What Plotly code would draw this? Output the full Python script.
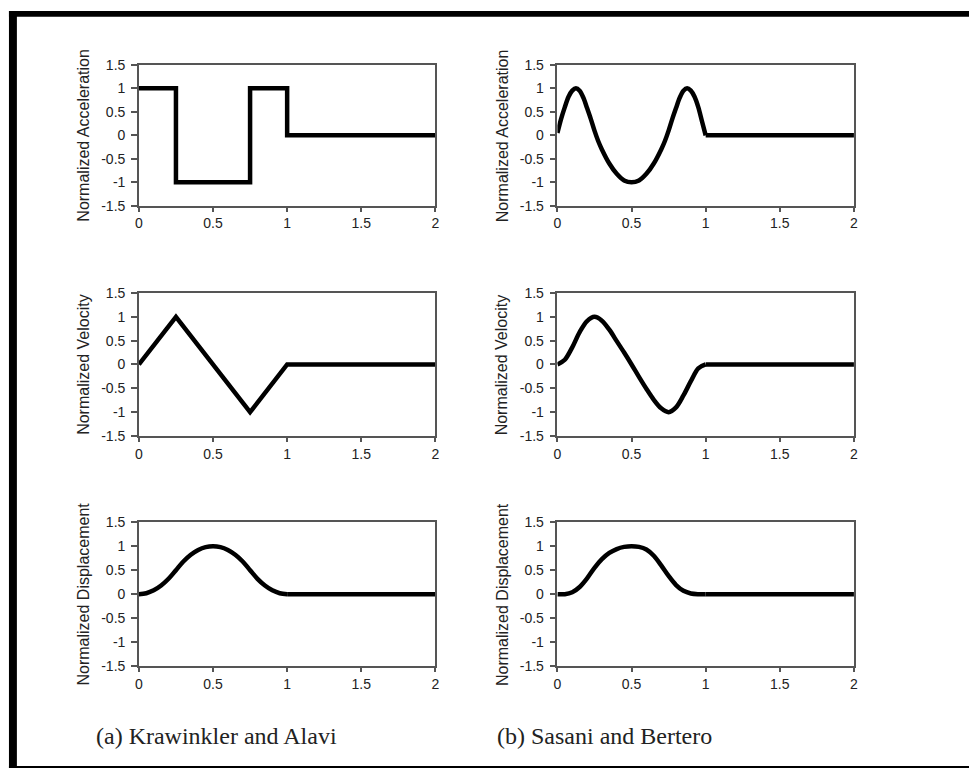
import plotly.graph_objects as go

W, H = 973, 776

# ---------------- data ----------------
# (a) Krawinkler and Alavi
ka_acc_t = [0, 0.25, 0.25, 0.75, 0.75, 1.0, 1.0, 2.0]
ka_acc_v = [1, 1, -1, -1, 1, 1, 0, 0]

ka_vel_t = [0, 0.25, 0.75, 1.0, 2.0]
ka_vel_v = [0, 1, -1, 0, 0]

ka_dis_t = [0, 0.05, 0.1, 0.15, 0.2, 0.25, 0.3, 0.35, 0.4, 0.45, 0.5,
            0.55, 0.6, 0.65, 0.7, 0.75, 0.8, 0.85, 0.9, 0.95, 1.0, 2.0]
ka_dis_v = [0, 0.02, 0.08, 0.18, 0.32, 0.5, 0.68, 0.82, 0.92, 0.98, 1.0,
            0.98, 0.92, 0.82, 0.68, 0.5, 0.32, 0.18, 0.08, 0.02, 0, 0]

# (b) Sasani and Bertero
sb_acc_t = [0, 0.025, 0.05, 0.075, 0.1, 0.125, 0.15, 0.175, 0.2, 0.225, 0.25,
            0.275, 0.3, 0.35, 0.4, 0.45, 0.5, 0.55, 0.6, 0.65, 0.7, 0.725,
            0.75, 0.775, 0.8, 0.825, 0.85, 0.875, 0.9, 0.925, 0.95, 0.975,
            1.0, 2.0]
sb_acc_v = [0.05, 0.35, 0.6, 0.82, 0.95, 1.0, 0.95, 0.8, 0.58, 0.35, 0.1,
            -0.12, -0.3, -0.6, -0.82, -0.96, -1.0, -0.96, -0.82, -0.6, -0.3, -0.12,
            0.1, 0.35, 0.58, 0.8, 0.95, 1.0, 0.95, 0.82, 0.6, 0.3,
            0.0, 0.0]

sb_vel_t = [0, 0.05, 0.1, 0.15, 0.2, 0.25, 0.3, 0.35, 0.4, 0.45, 0.5,
            0.55, 0.6, 0.65, 0.7, 0.75, 0.8, 0.85, 0.9, 0.95, 1.0, 2.0]
sb_vel_v = [0, 0.1, 0.36, 0.68, 0.91, 1.0, 0.92, 0.73, 0.49, 0.25, 0.0,
            -0.26, -0.51, -0.74, -0.92, -1.0, -0.9, -0.65, -0.35, -0.08, 0, 0]

sb_dis_t = [0, 0.05, 0.1, 0.15, 0.2, 0.25, 0.3, 0.35, 0.4, 0.45, 0.5,
            0.55, 0.6, 0.65, 0.7, 0.75, 0.8, 0.85, 0.9, 0.95, 1.0, 2.0]
sb_dis_v = [0, 0.0, 0.04, 0.15, 0.33, 0.55, 0.73, 0.86, 0.94, 0.985, 1.0,
            0.985, 0.93, 0.8, 0.6, 0.38, 0.19, 0.07, 0.015, 0, 0, 0]

x_ticks = [0, 0.5, 1, 1.5, 2]
x_tick_labels = ["0", "0.5", "1", "1.5", "2"]
y_ticks = [-1.5, -1, -0.5, 0, 0.5, 1, 1.5]
y_tick_labels = ["-1.5", "-1", "-0.5", "0", "0.5", "1", "1.5"]

row_titles = ["Normalized Acceleration", "Normalized Velocity", "Normalized Displacement"]
captions = ["(a) Krawinkler and Alavi", "(b) Sasani and Bertero"]

panels = [
    (0, 0, ka_acc_t, ka_acc_v, "linear"),
    (1, 0, ka_vel_t, ka_vel_v, "linear"),
    (2, 0, ka_dis_t, ka_dis_v, "spline"),
    (0, 1, sb_acc_t, sb_acc_v, "spline"),
    (1, 1, sb_vel_t, sb_vel_v, "spline"),
    (2, 1, sb_dis_t, sb_dis_v, "spline"),
]

# ---------------- layout geometry (pixels) ----------------
col_px = [(136, 435), (558, 857)]
row_px = [(58, 202), (291, 437), (525, 672)]
title_x_px = [80, 502]
caption_px = [(91, 743), (495, 743)]


def fx(px):
    return px / W


def fy(py):
    return 1 - py / H


fig = go.Figure()
layout = dict(
    width=W, height=H,
    margin=dict(l=0, r=0, t=0, b=0),
    paper_bgcolor="white", plot_bgcolor="white",
    showlegend=False,
)

tick_font = dict(family="Liberation Sans, Arial, sans-serif", size=14, color="#222222")
axis_col = "#555555"
line_style = dict(color="black", width=4.5)

annotations = []
for i, (r, c, t, v, shape) in enumerate(panels):
    n = i + 1
    xa = "x" if n == 1 else f"x{n}"
    ya = "y" if n == 1 else f"y{n}"
    if shape == "spline":
        # smooth pulse, then the flat tail drawn straight
        k = t.index(1.0)
        fig.add_trace(go.Scatter(
            x=t[:k + 1], y=v[:k + 1], mode="lines", xaxis=xa, yaxis=ya,
            line=dict(**line_style, shape="spline", smoothing=0.9),
            hoverinfo="skip",
        ))
        fig.add_trace(go.Scatter(
            x=t[k:], y=v[k:], mode="lines", xaxis=xa, yaxis=ya,
            line=dict(**line_style), hoverinfo="skip",
        ))
    else:
        fig.add_trace(go.Scatter(
            x=t, y=v, mode="lines", xaxis=xa, yaxis=ya,
            line=dict(**line_style), hoverinfo="skip",
        ))
    x0, x1 = col_px[c]
    y0, y1 = row_px[r]
    key_x = "xaxis" if n == 1 else f"xaxis{n}"
    key_y = "yaxis" if n == 1 else f"yaxis{n}"
    layout[key_x] = dict(
        domain=[fx(x0), fx(x1)], range=[0, 2], anchor=ya,
        tickvals=x_ticks, ticktext=x_tick_labels, ticks="outside", ticklen=4,
        tickwidth=1.5, tickcolor=axis_col, showline=True, linecolor=axis_col,
        linewidth=1.5, mirror=True, showgrid=False, zeroline=False,
        tickfont=tick_font, fixedrange=True,
    )
    layout[key_y] = dict(
        domain=[fy(y1), fy(y0)], range=[-1.5, 1.5], anchor=xa,
        tickvals=y_ticks, ticktext=y_tick_labels, ticks="outside", ticklen=6,
        tickwidth=1.5, tickcolor=axis_col, showline=True, linecolor=axis_col,
        linewidth=1.5, mirror=True, showgrid=False, zeroline=False,
        tickfont=tick_font, fixedrange=True, ticklabelstandoff=3,
    )
    annotations.append(dict(
        text=row_titles[r], x=fx(title_x_px[c]), y=fy((y0 + y1) / 2),
        xref="paper", yref="paper", showarrow=False, textangle=-90,
        xanchor="center", yanchor="middle",
        font=dict(family="Liberation Sans, Arial, sans-serif", size=16, color="#222222"),
    ))

for k, cap in enumerate(captions):
    cx, cy = caption_px[k]
    annotations.append(dict(
        text=cap, x=fx(cx), y=fy(cy), xref="paper", yref="paper",
        showarrow=False, xanchor="left", yanchor="middle",
        font=dict(family="Liberation Serif, Times New Roman, serif", size=24, color="#222222"),
    ))

layout["annotations"] = annotations

# frame around the figure: thick left and top, thin bottom
layout["shapes"] = [
    dict(type="rect", xref="paper", yref="paper", x0=fx(5), x1=fx(13), y0=fy(776), y1=fy(3),
         fillcolor="black", line=dict(width=0)),
    dict(type="rect", xref="paper", yref="paper", x0=fx(5), x1=fx(973), y0=fy(9), y1=fy(3),
         fillcolor="black", line=dict(width=0)),
    dict(type="rect", xref="paper", yref="paper", x0=fx(5), x1=fx(973), y0=fy(776), y1=fy(774),
         fillcolor="black", line=dict(width=0)),
]

fig.update_layout(**layout)
fig.write_html(
    "out.html",
    config={"displayModeBar": False},
    post_script="document.body.style.margin='0';document.body.style.overflow='hidden';",
)
